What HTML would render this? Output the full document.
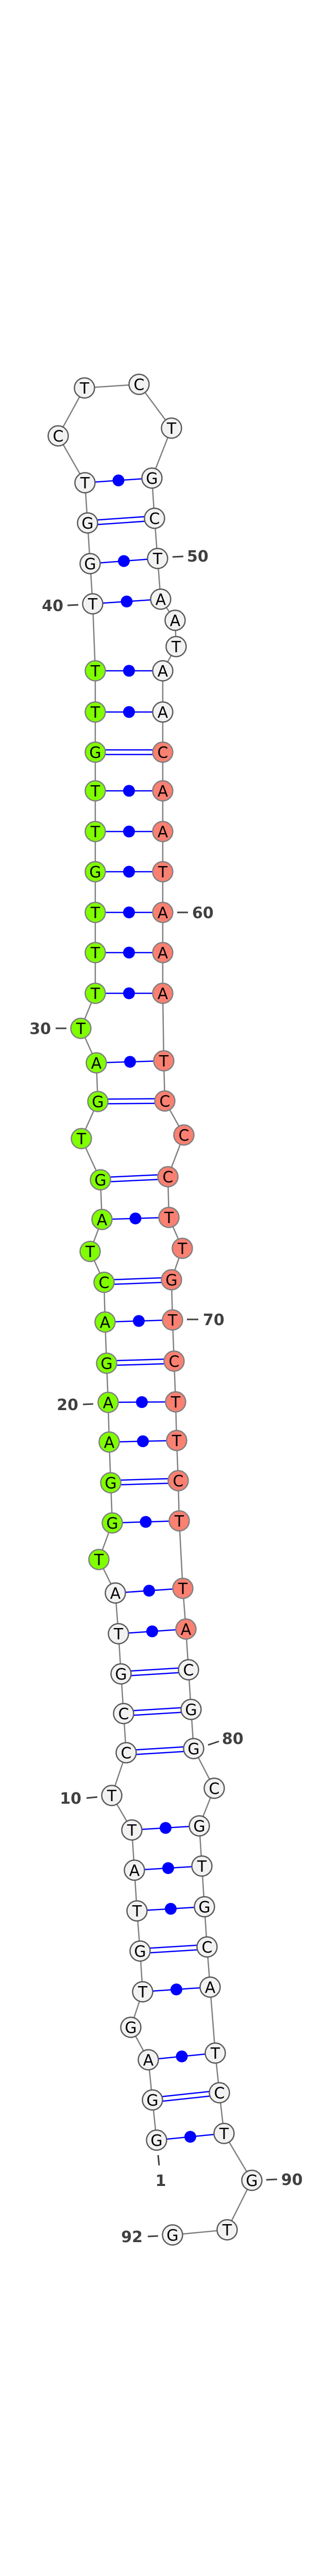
<!DOCTYPE html>
<html><head><meta charset="utf-8"><style>html,body{margin:0;padding:0;background:#fff;width:600px;height:5098px;overflow:hidden}svg{display:block;overflow:hidden}</style></head>
<body>
<svg xmlns="http://www.w3.org/2000/svg" width="600" height="5098" viewBox="0 0 600 5098">
<rect width="600" height="5098" fill="#fff"/>
<g fill="none" stroke="#808080" stroke-width="2.5">
<polyline points="304,4154 296,4076 288,3998 254,3935 277,3866 272,3787 266,3709 261,3630 256,3552 217,3485 245,3402 240,3326 235,3249 230,3171 224,3092 192,3027 218,2956 215,2878 212,2799 210,2722 207,2646 204,2566 202,2489 175,2429 198,2367 195,2290 158,2210 190,2138 187,2063 157,1996 185,1928 185,1849 185,1771 185,1692 185,1614 185,1535 185,1460 185,1382 185,1302 180,1172 175,1094 170,1015 165,937 113,846 164,753 270,746 333,831 295,928 300,1006 306,1084 312,1163 340,1204 342,1255 316,1302 316,1382 316,1460 316,1535 316,1614 316,1692 316,1771 316,1849 316,1928 318,2059 320,2137 357,2203 326,2284 328,2363 354,2423 333,2484 335,2562 338,2642 341,2721 343,2796 346,2874 348,2952 355,3083 361,3162 366,3241 371,3318 376,3394 416,3471 387,3544 392,3622 397,3701 402,3779 408,3857 418,3985 426,4062 435,4141 489,4232 441,4328 335,4338"/>
</g>
<g stroke="#0000ff" stroke-width="2.5" fill="none">
<line x1="304" y1="4154" x2="435" y2="4141"/>
<line x1="288" y1="3998" x2="418" y2="3985"/>
<line x1="277" y1="3866" x2="408" y2="3857"/>
<line x1="266" y1="3709" x2="397" y2="3701"/>
<line x1="261" y1="3630" x2="392" y2="3622"/>
<line x1="256" y1="3552" x2="387" y2="3544"/>
<line x1="230" y1="3171" x2="361" y2="3162"/>
<line x1="224" y1="3092" x2="355" y2="3083"/>
<line x1="218" y1="2956" x2="348" y2="2952"/>
<line x1="212" y1="2799" x2="343" y2="2796"/>
<line x1="210" y1="2722" x2="341" y2="2721"/>
<line x1="204" y1="2566" x2="335" y2="2562"/>
<line x1="198" y1="2367" x2="328" y2="2363"/>
<line x1="187" y1="2063" x2="318" y2="2059"/>
<line x1="185" y1="1928" x2="316" y2="1928"/>
<line x1="185" y1="1849" x2="316" y2="1849"/>
<line x1="185" y1="1771" x2="316" y2="1771"/>
<line x1="185" y1="1692" x2="316" y2="1692"/>
<line x1="185" y1="1614" x2="316" y2="1614"/>
<line x1="185" y1="1535" x2="316" y2="1535"/>
<line x1="185" y1="1382" x2="316" y2="1382"/>
<line x1="185" y1="1302" x2="316" y2="1302"/>
<line x1="180" y1="1172" x2="312" y2="1163"/>
<line x1="175" y1="1094" x2="306" y2="1084"/>
<line x1="165" y1="937" x2="295" y2="928"/>
<line x1="296" y1="4071.5" x2="426" y2="4057.5"/><line x1="296" y1="4080.5" x2="426" y2="4066.5"/>
<line x1="272" y1="3782.5" x2="402" y2="3774.5"/><line x1="272" y1="3791.5" x2="402" y2="3783.5"/>
<line x1="245" y1="3397.5" x2="376" y2="3389.5"/><line x1="245" y1="3406.5" x2="376" y2="3398.5"/>
<line x1="240" y1="3321.5" x2="371" y2="3313.5"/><line x1="240" y1="3330.5" x2="371" y2="3322.5"/>
<line x1="235" y1="3244.5" x2="366" y2="3236.5"/><line x1="235" y1="3253.5" x2="366" y2="3245.5"/>
<line x1="215" y1="2873.5" x2="346" y2="2869.5"/><line x1="215" y1="2882.5" x2="346" y2="2878.5"/>
<line x1="207" y1="2641.5" x2="338" y2="2637.5"/><line x1="207" y1="2650.5" x2="338" y2="2646.5"/>
<line x1="202" y1="2484.5" x2="333" y2="2479.5"/><line x1="202" y1="2493.5" x2="333" y2="2488.5"/>
<line x1="195" y1="2285.5" x2="326" y2="2279.5"/><line x1="195" y1="2294.5" x2="326" y2="2288.5"/>
<line x1="190" y1="2133.5" x2="320" y2="2132.5"/><line x1="190" y1="2142.5" x2="320" y2="2141.5"/>
<line x1="185" y1="1455.5" x2="316" y2="1455.5"/><line x1="185" y1="1464.5" x2="316" y2="1464.5"/>
<line x1="170" y1="1010.5" x2="300" y2="1001.5"/><line x1="170" y1="1019.5" x2="300" y2="1010.5"/>
</g>
<g fill="#0000ff">
<circle cx="369.5" cy="4147.5" r="11.5"/>
<circle cx="353" cy="3991.5" r="11.5"/>
<circle cx="342.5" cy="3861.5" r="11.5"/>
<circle cx="331.5" cy="3705" r="11.5"/>
<circle cx="326.5" cy="3626" r="11.5"/>
<circle cx="321.5" cy="3548" r="11.5"/>
<circle cx="295.5" cy="3166.5" r="11.5"/>
<circle cx="289.5" cy="3087.5" r="11.5"/>
<circle cx="283" cy="2954" r="11.5"/>
<circle cx="277.5" cy="2797.5" r="11.5"/>
<circle cx="275.5" cy="2721.5" r="11.5"/>
<circle cx="269.5" cy="2564" r="11.5"/>
<circle cx="263" cy="2365" r="11.5"/>
<circle cx="252.5" cy="2061" r="11.5"/>
<circle cx="250.5" cy="1928" r="11.5"/>
<circle cx="250.5" cy="1849" r="11.5"/>
<circle cx="250.5" cy="1771" r="11.5"/>
<circle cx="250.5" cy="1692" r="11.5"/>
<circle cx="250.5" cy="1614" r="11.5"/>
<circle cx="250.5" cy="1535" r="11.5"/>
<circle cx="250.5" cy="1382" r="11.5"/>
<circle cx="250.5" cy="1302" r="11.5"/>
<circle cx="246" cy="1167.5" r="11.5"/>
<circle cx="240.5" cy="1089" r="11.5"/>
<circle cx="230" cy="932.5" r="11.5"/>
</g>
<g stroke-width="2.5" font-family="'DejaVu Sans','Liberation Sans',sans-serif" font-size="30" text-anchor="middle">
<g fill="#f2f2f2" stroke="#5a5a5a">
<circle cx="304" cy="4154" r="19.5"/><circle cx="296" cy="4076" r="19.5"/><circle cx="288" cy="3998" r="19.5"/><circle cx="254" cy="3935" r="19.5"/><circle cx="277" cy="3866" r="19.5"/><circle cx="272" cy="3787" r="19.5"/><circle cx="266" cy="3709" r="19.5"/><circle cx="261" cy="3630" r="19.5"/><circle cx="256" cy="3552" r="19.5"/><circle cx="217" cy="3485" r="19.5"/><circle cx="245" cy="3402" r="19.5"/><circle cx="240" cy="3326" r="19.5"/><circle cx="235" cy="3249" r="19.5"/><circle cx="230" cy="3171" r="19.5"/><circle cx="224" cy="3092" r="19.5"/>
<circle cx="180" cy="1172" r="19.5"/><circle cx="175" cy="1094" r="19.5"/><circle cx="170" cy="1015" r="19.5"/><circle cx="165" cy="937" r="19.5"/><circle cx="113" cy="846" r="19.5"/><circle cx="164" cy="753" r="19.5"/><circle cx="270" cy="746" r="19.5"/><circle cx="333" cy="831" r="19.5"/><circle cx="295" cy="928" r="19.5"/><circle cx="300" cy="1006" r="19.5"/><circle cx="306" cy="1084" r="19.5"/><circle cx="312" cy="1163" r="19.5"/><circle cx="340" cy="1204" r="19.5"/><circle cx="342" cy="1255" r="19.5"/><circle cx="316" cy="1302" r="19.5"/><circle cx="316" cy="1382" r="19.5"/>
<circle cx="366" cy="3241" r="19.5"/><circle cx="371" cy="3318" r="19.5"/><circle cx="376" cy="3394" r="19.5"/><circle cx="416" cy="3471" r="19.5"/><circle cx="387" cy="3544" r="19.5"/><circle cx="392" cy="3622" r="19.5"/><circle cx="397" cy="3701" r="19.5"/><circle cx="402" cy="3779" r="19.5"/><circle cx="408" cy="3857" r="19.5"/><circle cx="418" cy="3985" r="19.5"/><circle cx="426" cy="4062" r="19.5"/><circle cx="435" cy="4141" r="19.5"/><circle cx="489" cy="4232" r="19.5"/><circle cx="441" cy="4328" r="19.5"/><circle cx="335" cy="4338" r="19.5"/>
</g>
<g fill="#7fff00" stroke="#808080">
<circle cx="192" cy="3027" r="19.5"/><circle cx="218" cy="2956" r="19.5"/><circle cx="215" cy="2878" r="19.5"/><circle cx="212" cy="2799" r="19.5"/><circle cx="210" cy="2722" r="19.5"/><circle cx="207" cy="2646" r="19.5"/><circle cx="204" cy="2566" r="19.5"/><circle cx="202" cy="2489" r="19.5"/><circle cx="175" cy="2429" r="19.5"/><circle cx="198" cy="2367" r="19.5"/><circle cx="195" cy="2290" r="19.5"/><circle cx="158" cy="2210" r="19.5"/><circle cx="190" cy="2138" r="19.5"/><circle cx="187" cy="2063" r="19.5"/><circle cx="157" cy="1996" r="19.5"/><circle cx="185" cy="1928" r="19.5"/><circle cx="185" cy="1849" r="19.5"/><circle cx="185" cy="1771" r="19.5"/><circle cx="185" cy="1692" r="19.5"/><circle cx="185" cy="1614" r="19.5"/><circle cx="185" cy="1535" r="19.5"/><circle cx="185" cy="1460" r="19.5"/><circle cx="185" cy="1382" r="19.5"/><circle cx="185" cy="1302" r="19.5"/>
</g>
<g fill="#fa8072" stroke="#808080">
<circle cx="316" cy="1460" r="19.5"/><circle cx="316" cy="1535" r="19.5"/><circle cx="316" cy="1614" r="19.5"/><circle cx="316" cy="1692" r="19.5"/><circle cx="316" cy="1771" r="19.5"/><circle cx="316" cy="1849" r="19.5"/><circle cx="316" cy="1928" r="19.5"/><circle cx="318" cy="2059" r="19.5"/><circle cx="320" cy="2137" r="19.5"/><circle cx="357" cy="2203" r="19.5"/><circle cx="326" cy="2284" r="19.5"/><circle cx="328" cy="2363" r="19.5"/><circle cx="354" cy="2423" r="19.5"/><circle cx="333" cy="2484" r="19.5"/><circle cx="335" cy="2562" r="19.5"/><circle cx="338" cy="2642" r="19.5"/><circle cx="341" cy="2721" r="19.5"/><circle cx="343" cy="2796" r="19.5"/><circle cx="346" cy="2874" r="19.5"/><circle cx="348" cy="2952" r="19.5"/><circle cx="355" cy="3083" r="19.5"/><circle cx="361" cy="3162" r="19.5"/>
</g>
<g fill="#000" stroke="none">
<text x="304" y="4165">G</text><text x="296" y="4087">G</text><text x="288" y="4009">A</text><text x="254" y="3946">G</text><text x="277" y="3877">T</text><text x="272" y="3798">G</text><text x="266" y="3720">T</text><text x="261" y="3641">A</text><text x="256" y="3563">T</text><text x="217" y="3496">T</text>
<text x="245" y="3413">C</text><text x="240" y="3337">C</text><text x="235" y="3260">G</text><text x="230" y="3182">T</text><text x="224" y="3103">A</text><text x="192" y="3038">T</text><text x="218" y="2967">G</text><text x="215" y="2889">G</text><text x="212" y="2810">A</text><text x="210" y="2733">A</text>
<text x="207" y="2657">G</text><text x="204" y="2577">A</text><text x="202" y="2500">C</text><text x="175" y="2440">T</text><text x="198" y="2378">A</text><text x="195" y="2301">G</text><text x="158" y="2221">T</text><text x="190" y="2149">G</text><text x="187" y="2074">A</text><text x="157" y="2007">T</text>
<text x="185" y="1939">T</text><text x="185" y="1860">T</text><text x="185" y="1782">T</text><text x="185" y="1703">G</text><text x="185" y="1625">T</text><text x="185" y="1546">T</text><text x="185" y="1471">G</text><text x="185" y="1393">T</text><text x="185" y="1313">T</text><text x="180" y="1183">T</text>
<text x="175" y="1105">G</text><text x="170" y="1026">G</text><text x="165" y="948">T</text><text x="113" y="857">C</text><text x="164" y="764">T</text><text x="270" y="757">C</text><text x="333" y="842">T</text><text x="295" y="939">G</text><text x="300" y="1017">C</text><text x="306" y="1095">T</text>
<text x="312" y="1174">A</text><text x="340" y="1215">A</text><text x="342" y="1266">T</text><text x="316" y="1313">A</text><text x="316" y="1393">A</text><text x="316" y="1471">C</text><text x="316" y="1546">A</text><text x="316" y="1625">A</text><text x="316" y="1703">T</text><text x="316" y="1782">A</text>
<text x="316" y="1860">A</text><text x="316" y="1939">A</text><text x="318" y="2070">T</text><text x="320" y="2148">C</text><text x="357" y="2214">C</text><text x="326" y="2295">C</text><text x="328" y="2374">T</text><text x="354" y="2434">T</text><text x="333" y="2495">G</text><text x="335" y="2573">T</text>
<text x="338" y="2653">C</text><text x="341" y="2732">T</text><text x="343" y="2807">T</text><text x="346" y="2885">C</text><text x="348" y="2963">T</text><text x="355" y="3094">T</text><text x="361" y="3173">A</text><text x="366" y="3252">C</text><text x="371" y="3329">G</text><text x="376" y="3405">G</text>
<text x="416" y="3482">C</text><text x="387" y="3555">G</text><text x="392" y="3633">T</text><text x="397" y="3712">G</text><text x="402" y="3790">C</text><text x="408" y="3868">A</text><text x="418" y="3996">T</text><text x="426" y="4073">C</text><text x="435" y="4152">T</text><text x="489" y="4243">G</text>
<text x="441" y="4339">T</text><text x="335" y="4349">G</text>
</g>
</g>
<g stroke="#404040" stroke-width="3">
<line x1="335" y1="1081" x2="356" y2="1080"/>
<line x1="131" y1="1175" x2="152" y2="1174"/>
<line x1="344" y1="1771" x2="365" y2="1771"/>
<line x1="108" y1="1996" x2="129" y2="1996"/>
<line x1="363" y1="2561" x2="385" y2="2561"/>
<line x1="161" y1="2726" x2="181" y2="2725"/>
<line x1="404" y1="3387" x2="425" y2="3380"/>
<line x1="168" y1="3490" x2="189" y2="3488"/>
<line x1="307" y1="4183" x2="309" y2="4203"/>
<line x1="517" y1="4231" x2="538" y2="4230"/>
<line x1="287" y1="4341" x2="307" y2="4340"/>
</g>
<g fill="#404040" font-family="'DejaVu Sans','Liberation Sans',sans-serif" font-size="30" font-weight="bold">
<text x="363" y="1090">50</text>
<text x="123" y="1186" text-anchor="end">40</text>
<text x="373" y="1782">60</text>
<text x="99" y="2007" text-anchor="end">30</text>
<text x="394" y="2572">70</text>
<text x="152" y="2737" text-anchor="end">20</text>
<text x="431" y="3385">80</text>
<text x="158" y="3501" text-anchor="end">10</text>
<text x="312" y="4243" text-anchor="middle">1</text>
<text x="546" y="4241">90</text>
<text x="277" y="4352" text-anchor="end">92</text>
</g>
<text x="223" y="5090" textLength="90" lengthAdjust="spacingAndGlyphs" font-family="'Liberation Sans',sans-serif" font-size="10" font-weight="bold" fill="#000">dps-mir-7_annot [-32.5]</text>
</svg>
</body></html>
